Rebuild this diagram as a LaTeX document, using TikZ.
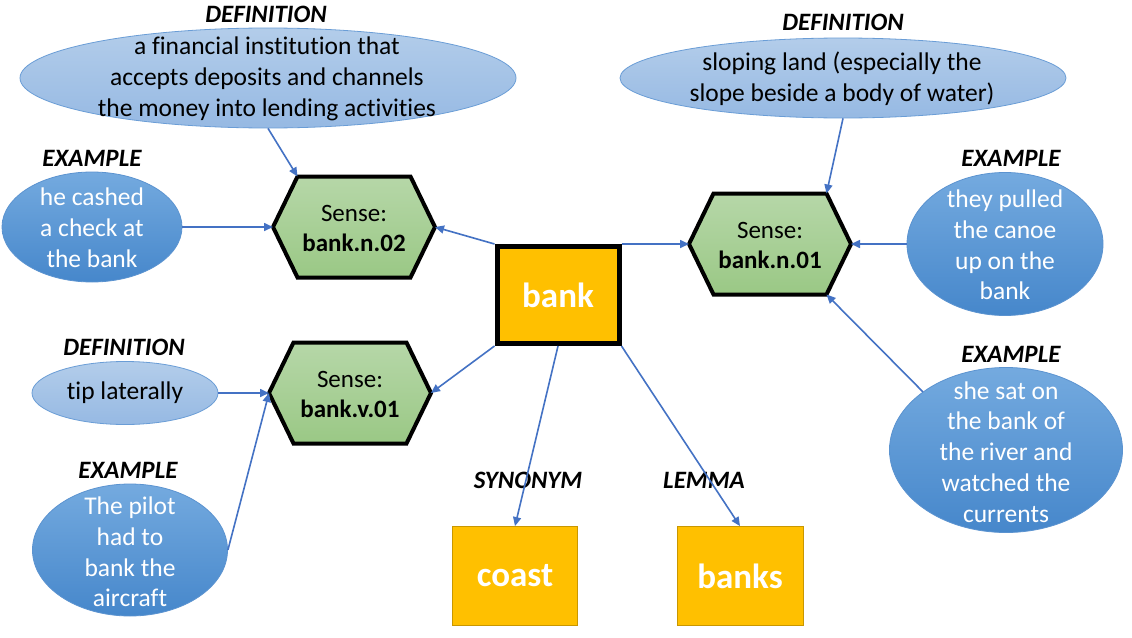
\documentclass[tikz,border=0pt]{standalone}
\usepackage{fontspec}
\setmainfont[Ligatures=NoCommon]{Carlito}
\usetikzlibrary{shapes.geometric,arrows.meta,calc}
\definecolor{arrowblue}{HTML}{4472C4}
\definecolor{deftop}{HTML}{B3CDEA}
\definecolor{defbot}{HTML}{96B9E3}
\definecolor{defborder}{HTML}{6A9DD6}
\definecolor{extop}{HTML}{74AADF}
\definecolor{exbot}{HTML}{4687CB}
\definecolor{exborder}{HTML}{5B93D0}
\definecolor{hextop}{HTML}{B6D7A8}
\definecolor{hexbot}{HTML}{9AC885}
\definecolor{gold}{HTML}{FFC000}
\definecolor{goldborder}{HTML}{C99700}
\newcommand\hexsense[4]{%
  \path[hexfill] (#2-56.5,#3-50.5) -- (#2+56.5,#3-50.5) -- (#2+81,#3) -- (#2+56.5,#3+50.5) -- (#2-56.5,#3+50.5) -- (#2-81,#3) -- cycle;
  \node[hexin] (#1) at (#2,#3+1) {Sense:\\\textbf{#4}};
  \coordinate (#1-w) at (#2-81,#3);
  \coordinate (#1-e) at (#2+81,#3);
  \coordinate (#1-nw) at (#2-56.5,#3-50.5);
  \coordinate (#1-ne) at (#2+56.5,#3-50.5);
  \coordinate (#1-se) at (#2+56.5,#3+50.5);
}
\begin{document}
\begin{tikzpicture}[x=1pt,y=-1pt,
  txt/.style={font=\fontsize{25.5}{30.8}\selectfont, align=center, inner sep=0pt},
  lbl/.style={font=\fontsize{25}{28}\selectfont\bfseries\itshape, inner sep=0pt},
  defell/.style={ellipse, draw=defborder, line width=0.8pt, top color=deftop, bottom color=defbot, inner sep=0pt},
  exell/.style={ellipse, draw=exborder, line width=0.8pt, top color=extop, bottom color=exbot, inner sep=0pt},
  hexfill/.style={draw=black, line width=4pt, line join=miter, top color=hextop, bottom color=hexbot},
  hexin/.style={font=\fontsize{25}{30}\selectfont, align=center, inner sep=0pt, text=black},
  conn/.style={draw=arrowblue, line width=1.6pt, -{Triangle[length=9pt,width=8pt]}},
  goldbox/.style={fill=gold, draw=goldborder, line width=0.8pt, text=white, font=\fontsize{35}{40}\selectfont\bfseries}
]
\useasboundingbox[fill=white] (0,0) rectangle (1132,637);

% ellipses
\node[defell, minimum width=496pt, minimum height=100pt] (def1) at (268,78) {};
\node[txt] (def1t) at (267,79) {a financial institution that\\accepts deposits and channels\\the money into lending activities};
\node[defell, minimum width=446pt, minimum height=80pt] (def2) at (843,78) {};
\node[txt] (def2t) at (842,79) {sloping land (especially the\\slope beside a body of water)};
\node[defell, minimum width=186pt, minimum height=63pt] (def3) at (125,393) {};
\node[txt] (def3t) at (125,393) {tip laterally};

\node[exell, minimum width=180pt, minimum height=110pt] (ex1) at (92,227) {};
\node[txt, text=white] (ex1t) at (92,228) {he cashed\\a check at\\the bank};
\node[exell, minimum width=196pt, minimum height=143pt] (ex2) at (1005,244) {};
\node[txt, text=white] (ex2t) at (1005,245) {they pulled\\the canoe\\up on the\\bank};
\node[exell, minimum width=233pt, minimum height=165pt] (ex3) at (1006,450) {};
\node[txt, text=white] (ex3t) at (1006,452) {she sat on\\the bank of\\the river and\\watched the\\currents};
\node[exell, minimum width=195pt, minimum height=132pt] (ex4) at (130,550) {};
\node[txt, text=white] (ex4t) at (130,552) {The pilot\\had to\\bank the\\aircraft};

% labels
\node[lbl] (l1) at (266,14) {DEFINITION};
\node[lbl] (l2) at (92,158) {EXAMPLE};
\node[lbl] (l3) at (843,22) {DEFINITION};
\node[lbl] (l4) at (1011,158) {EXAMPLE};
\node[lbl] (l5) at (1011,354) {EXAMPLE};
\node[lbl] (l6) at (124,347) {DEFINITION};
\node[lbl] (l7) at (128,470) {EXAMPLE};
\node[lbl] (l8) at (528,480) {SYNONYM};
\node[lbl] (l9) at (704,480) {LEMMA};

% hexagons
\hexsense{n02}{354}{227}{bank.n.02}
\hexsense{n01}{770}{244}{bank.n.01}
\hexsense{v01}{350}{393}{bank.v.01}

% boxes
\node[goldbox, draw=black, line width=5pt, minimum width=122pt, minimum height=97pt] (bank) at (558,295) {bank};
\node[goldbox, minimum width=125pt, minimum height=99pt] (coast) at (515,576) {coast};
\node[goldbox, minimum width=126pt, minimum height=99pt] (banks) at (740,576) {banks};

% connectors
\draw[conn] (def1.south) -- (n02-nw);
\draw[conn] (ex1.east) -- (n02-w);
\draw[conn] (bank.north west) -- (n02-e);
\draw[conn] (bank.north east) -- (n01-w);
\draw[conn] (def2.south) -- (n01-ne);
\draw[conn] (ex2.west) -- (n01-e);
\draw[conn] (ex3.145) -- (n01-se);
\draw[conn] (bank.south west) -- (v01-e);
\draw[conn] (def3.east) -- (v01-w);
\draw[conn] (ex4.east) -- (v01-w);
\draw[conn] (bank.south) -- (coast.north);
\draw[conn] (bank.south east) -- (banks.north);
\end{tikzpicture}
\end{document}
